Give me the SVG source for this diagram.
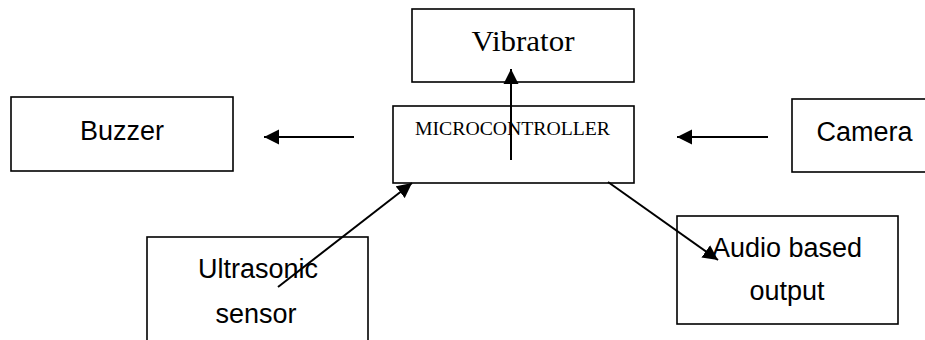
<svg xmlns="http://www.w3.org/2000/svg" width="925" height="340" viewBox="0 0 925 340">
<defs>
<style>
.box{fill:#fff;stroke:#000;stroke-width:1.6}
.sans{font-family:"Liberation Sans",Arial,sans-serif;font-size:27px;fill:#000;text-anchor:middle}
.serif{font-family:"Liberation Serif","Times New Roman",serif;fill:#000;text-anchor:middle}
.conn{stroke:#000;stroke-width:2;fill:none;marker-end:url(#ah)}
</style>
<marker id="ah" markerUnits="userSpaceOnUse" markerWidth="16" markerHeight="16" viewBox="0 0 16 16" refX="15" refY="8" orient="auto">
<path d="M0,0.5 L15,8 L0,15.5 Z" fill="#000"/>
</marker>
</defs>
<rect width="925" height="340" fill="#fff"/>
<g id="vibrator">
<rect class="box" x="412" y="9" width="222" height="73"/>
<text class="serif" x="523" y="51" font-size="30" textLength="103" lengthAdjust="spacingAndGlyphs">Vibrator</text>
</g>
<g id="microcontroller">
<rect class="box" x="393" y="106" width="241" height="77"/>
<text class="serif" x="512.5" y="135" font-size="18" textLength="195" lengthAdjust="spacingAndGlyphs">MICROCONTROLLER</text>
</g>
<g id="buzzer">
<rect class="box" x="11" y="97" width="222" height="74"/>
<text class="sans" x="122" y="140">Buzzer</text>
</g>
<g id="camera">
<rect class="box" x="792" y="99" width="140" height="73"/>
<text class="sans" x="864.5" y="141">Camera</text>
</g>
<g id="ultrasonic">
<rect class="box" x="147" y="237" width="221" height="120"/>
<text class="sans" x="258" y="278">Ultrasonic</text>
<text class="sans" x="256" y="323">sensor</text>
</g>
<g id="audio">
<rect class="box" x="677" y="216" width="221" height="108"/>
<text class="sans" x="787" y="257">Audio based</text>
<text class="sans" x="787" y="300">output</text>
</g>
<g id="connectors">
<line class="conn" x1="511" y1="160" x2="511" y2="69"/>
<line class="conn" x1="354" y1="137" x2="264" y2="137"/>
<line class="conn" x1="768" y1="137" x2="677" y2="137"/>
<line class="conn" x1="278" y1="287" x2="412" y2="183"/>
<line class="conn" x1="608" y1="182" x2="718" y2="260"/>
</g>
</svg>
